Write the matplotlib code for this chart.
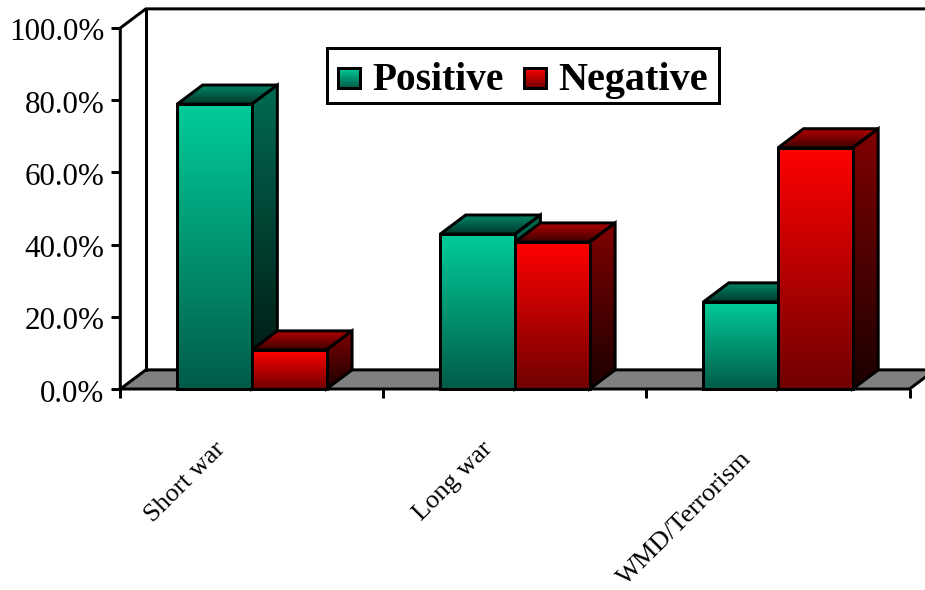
import matplotlib
matplotlib.use('Agg')
import matplotlib.pyplot as plt
import numpy as np
from matplotlib.patches import Polygon, Rectangle
from matplotlib.transforms import ScaledTranslation

categories = ["Short war", "Long war", "WMD/Terrorism"]
positive = [78.9, 42.9, 24.1]
negative = [10.8, 40.7, 66.8]
y_ticks = [0, 20, 40, 60, 80, 100]
y_labels = ["0.0%", "20.0%", "40.0%", "60.0%", "80.0%", "100.0%"]

# (top colour, bottom colour) for each face of the boxes
green = {"front": ("#00cc99", "#005c48"), "side": ("#006b52", "#00140f"), "top": ("#008a6a", "#00382a")}
red = {"front": ("#ff0000", "#700000"), "side": ("#800000", "#1c0000"), "top": ("#b80000", "#3c0000")}

plt.rcParams['font.family'] = ['Liberation Serif', 'DejaVu Serif']
W, H = 925, 590
LW = 2.15
BAR_W = 0.284
DX = 0.097   # depth of the 3d effect, in category units
DY = 5.3     # and in percent
# label offsets from the category position, in points
label_offsets = [(-27, -35), (-24, -35), (-27, -42)]


def gradient(c1, c2):
    a = np.array(matplotlib.colors.to_rgb(c1))
    b = np.array(matplotlib.colors.to_rgb(c2))
    t = np.linspace(0, 1, 128)[:, None, None]
    return a * (1 - t) + b * t


def face(ax_, pts, colors, z):
    pts = np.array(pts)
    poly = Polygon(pts, closed=True, fc='none', ec='none', zorder=z)
    ax_.add_patch(poly)
    im = ax_.imshow(gradient(*colors), aspect='auto', origin='upper', zorder=z,
                    extent=(pts[:, 0].min(), pts[:, 0].max(), pts[:, 1].min(), pts[:, 1].max()))
    im.set_clip_path(poly)
    ax_.add_patch(Polygon(pts, closed=True, fc='none', ec='black', lw=LW, zorder=z + 0.1,
                          joinstyle='miter', clip_on=False))


def box(ax_, x0, v, cols, z):
    x1 = x0 + BAR_W
    face(ax_, [(x0, v), (x0 + DX, v + DY), (x1 + DX, v + DY), (x1, v)], cols["top"], z)
    face(ax_, [(x1, 0), (x1, v), (x1 + DX, v + DY), (x1 + DX, DY)], cols["side"], z + 0.2)
    face(ax_, [(x0, 0), (x0, v), (x1, v), (x1, 0)], cols["front"], z + 0.4)


fig = plt.figure(figsize=(W / 100, H / 100), dpi=100)
ax = fig.add_axes([120.3 / W, 1 - 389 / H, (909.5 - 120.3) / W, (389 - 28) / H])
ax.patch.set_visible(False)
for s in ax.spines.values():
    s.set_visible(False)

# floor and walls
ax.add_patch(Polygon([(-0.5, 0), (-0.5 + DX, DY), (2.5 + DX, DY), (2.5, 0)], closed=True,
                     fc='#808080', ec='black', lw=LW, zorder=1, clip_on=False))
ax.plot([-0.5, -0.5, -0.5 + DX, 2.5 + DX], [0, 100, 100 + DY, 100 + DY], color='black', lw=LW,
        zorder=1, clip_on=False, solid_joinstyle='miter')
ax.plot([-0.5 + DX, -0.5 + DX], [DY, 100 + DY], color='black', lw=LW, zorder=1, clip_on=False)

for i in range(len(categories)):
    box(ax, i - BAR_W, positive[i], green, 2 + i * 2)
    box(ax, i, negative[i], red, 3 + i * 2)

ax.set_xlim(-0.5, 2.5)
ax.set_ylim(0, 100)
ax.set_yticks(y_ticks)
ax.set_yticklabels(y_labels, fontsize=22.4)
ax.set_xticks([-0.5, 0.5, 1.5, 2.5])
ax.set_xticklabels([])
ax.tick_params(axis='both', width=LW, length=6.5, color='black', pad=5)
for lab in ax.get_yticklabels():
    lab.set_transform(lab.get_transform() + ScaledTranslation(0, -0.015, fig.dpi_scale_trans))

# category labels, rotated under the axis
for i, name in enumerate(categories):
    ax.annotate(name, xy=(i, 0), xycoords='data', xytext=label_offsets[i], textcoords='offset points',
                rotation=45, rotation_mode='anchor', ha='right', va='top', fontsize=19,
                annotation_clip=False)

# legend box
fig.add_artist(Rectangle((326.5 / W, 1 - 103 / H), (719 - 326.5) / W, (103 - 48) / H, transform=fig.transFigure,
                         fc='white', ec='black', lw=LW, zorder=20))
for x, cols, name, tx, size in [(338, green, "Positive", 372, 28.4), (523.5, red, "Negative", 558, 29)]:
    sw = fig.add_axes([x / W, 1 - 88 / H, 22 / W, 20 / H], zorder=30)
    sw.imshow(gradient(*cols["front"]), aspect='auto')
    sw.set_xticks([])
    sw.set_yticks([])
    for s in sw.spines.values():
        s.set_linewidth(LW)
    fig.text(tx / W, 1 - 90 / H, name, fontsize=size, fontweight='bold', va='baseline', ha='left', zorder=30)

fig.savefig('out.png', dpi=100)
